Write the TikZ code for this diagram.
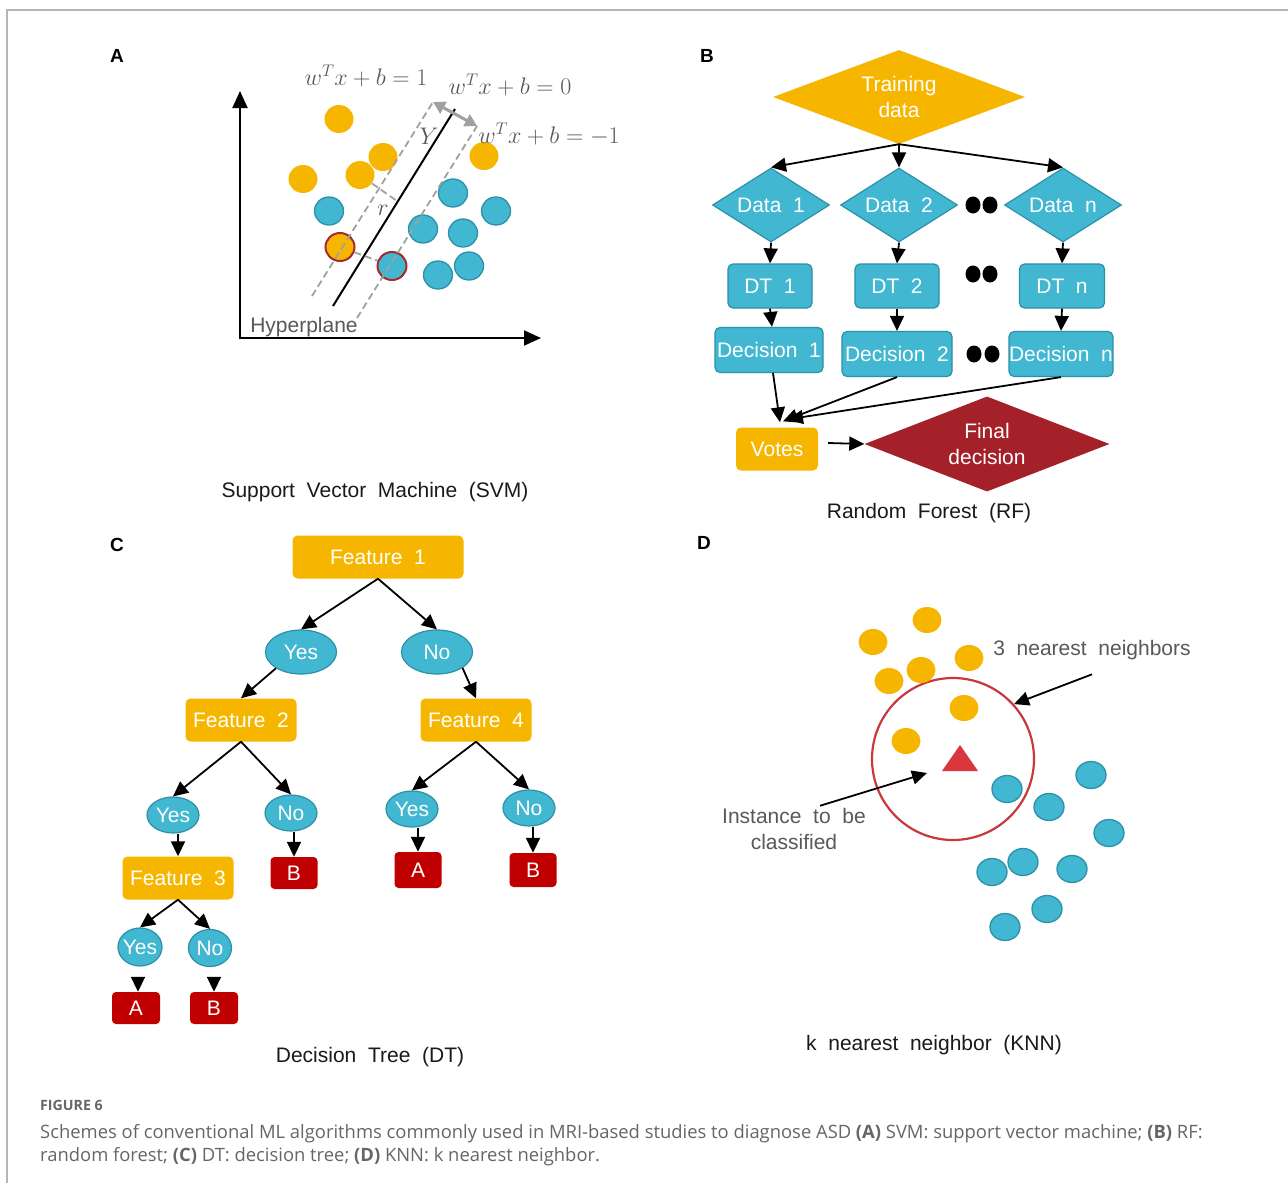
\RequirePackage{fix-cm}
\documentclass[tikz,border=0pt]{standalone}
\usepackage{fontspec}
\setmainfont{Liberation Sans}[WordSpace=2]
\newfontfamily\capfont{Open Sans}
\usetikzlibrary{arrows.meta,shapes.geometric,calc}
\definecolor{cyel}{HTML}{F6B600}
\definecolor{cblue}{HTML}{42B7D1}
\definecolor{cbluedk}{HTML}{2C90A8}
\definecolor{cdred}{HTML}{A5212A}
\definecolor{cred}{HTML}{C00000}
\definecolor{ctri}{HTML}{D9363E}
\definecolor{cring}{HTML}{C8393D}
\definecolor{ctext}{HTML}{595959}
\definecolor{cdash}{HTML}{A0A0A0}
\definecolor{csvred}{HTML}{A52A2A}
\definecolor{cframe}{HTML}{B5B5B5}
\definecolor{ccap}{HTML}{666666}
\definecolor{ctitle}{HTML}{1A1A1A}
\newcommand\dtxt{\fontsize{21}{26}\selectfont}
\newcommand\lbltxt{\fontsize{19}{22}\selectfont\bfseries}
\newcommand\eqtxt{\fontsize{24}{28}\selectfont}
\begin{document}
\begin{tikzpicture}[x=1pt,y=-1pt,
  arr/.style={-{Triangle[length=15pt,width=14pt]}, line width=1.8pt, draw=black},
  axarr/.style={-{Triangle[length=17pt,width=15pt]}, line width=2pt, draw=black},
  gdbl/.style={{Triangle[length=12pt,width=13pt]}-{Triangle[length=12pt,width=13pt]}, line width=3pt, draw=cdash},
  svdash/.style={draw=cdash, line width=1.8pt, dash pattern=on 7pt off 4pt},
  ybox/.style={rectangle, rounded corners=5pt, fill=cyel, text=white, minimum height=43pt, inner sep=0pt, font=\dtxt},
  bbox/.style={rectangle, rounded corners=5pt, fill=cblue, draw=cbluedk, line width=1.2pt, text=white, minimum height=44pt, inner sep=0pt, font=\dtxt},
  rbox/.style={rectangle, rounded corners=4pt, fill=cred, text=white, minimum width=47pt, minimum height=32pt, inner sep=0pt, font=\dtxt},
  bell/.style={ellipse, fill=cblue, draw=cbluedk, line width=1.2pt, inner sep=0pt},
  elbl/.style={font=\dtxt, text=white},
  ydia/.style={diamond, fill=cyel, text=white, inner sep=0pt, align=center, font=\dtxt},
  bdia/.style={diamond, fill=cblue, draw=cbluedk, line width=1.2pt, text=white, inner sep=0pt, align=center, font=\dtxt},
  rdia/.style={diamond, fill=cdred, text=white, inner sep=0pt, align=center, font=\dtxt},
  blk/.style={ellipse, fill=black, minimum width=15pt, minimum height=17pt, inner sep=0pt},
  ydot/.style={ellipse, fill=cyel, minimum width=29pt, minimum height=28pt, inner sep=0pt},
  bdot/.style={ellipse, fill=cblue, draw=cbluedk, line width=1.3pt, minimum width=29pt, minimum height=28pt, inner sep=0pt},
  kydot/.style={ellipse, fill=cyel, minimum width=29pt, minimum height=26pt, inner sep=0pt},
  kbdot/.style={ellipse, fill=cblue, draw=cbluedk, line width=1.3pt, minimum width=30pt, minimum height=27pt, inner sep=0pt},
  title/.style={font=\dtxt, text=ctitle},
  plbl/.style={font=\lbltxt, text=black},
  svtxt/.style={font=\eqtxt, text=ctext}
]
\useasboundingbox (0,0) rectangle (1288,1183);
\fill[white] (0,0) rectangle (1288,1183);
\draw[cframe, line width=1.5pt] (7,1183) -- (7,10) -- (1288,10);

% panel labels
\node[plbl] (lA) at (117,56) {A};
\node[plbl] (lB) at (707,56) {B};
\node[plbl] (lC) at (117,545) {C};
\node[plbl] (lD) at (704,543) {D};

% ================= SVM =================
\coordinate (orig) at (240,338);
\coordinate (ytip) at (240,91);
\coordinate (xtip) at (541,338);
\draw[axarr, line cap=rect] (orig) -- (ytip);
\draw[axarr, line cap=rect] (orig) -- (xtip);

\coordinate (hpA) at (333,306); \coordinate (hpB) at (455,109);
\coordinate (upA) at (312,296); \coordinate (upB) at (433,102);
\coordinate (loA) at (357,318); \coordinate (loB) at (477,126);
\coordinate (rfoot) at (397,201);

\foreach \n/\x/\y in {1/339/119,2/383/157,3/303/179,4/360/175,5/484/156}
  \node[ydot] (sy\n) at (\x,\y) {};
\foreach \n/\x/\y in {1/329/211,2/453/193,3/496/211,4/423/229,5/463/233,6/438/275,7/469/266}
  \node[bdot] (sb\n) at (\x,\y) {};
\node[ydot, draw=csvred, line width=2pt] (sy6) at (340,247) {};
\node[bdot, draw=csvred, line width=2pt] (sb8) at (392,266) {};

\draw[svdash] (upA) -- (upB);
\draw[svdash] (loA) -- (loB);
\draw[line width=2pt] (hpA) -- (hpB);
\draw[svdash] (sy4) -- (rfoot);
\draw[svdash] (sy6) -- (sb8);
\draw[gdbl] (upB) -- (loB);

\node[svtxt] (eq1) at (366,76) {$w^{T}x+b=1$};
\node[svtxt] (eq0) at (510,85) {$w^{T}x+b=0$};
\node[svtxt] (eqm) at (549,134) {$w^{T}x+b=-1$};
\node[svtxt] (gam) at (429,136) {$Y$};
\node[svtxt] (rr) at (383,210) {$r$};
\node[font=\dtxt, text=ctext] (hyp) at (304,327) {Hyperplane};
\node[title] (tA) at (375,492) {Support Vector Machine (SVM)};

% ================= Random Forest =================
\node[ydia, minimum width=252pt, minimum height=94pt, aspect=2.68] (td) at (899,97) {Training\\data};
\node[bdia, minimum width=117pt, minimum height=74pt, aspect=1.58] (d1) at (771,205) {Data 1};
\node[bdia, minimum width=117pt, minimum height=74pt, aspect=1.58] (d2) at (899,205) {Data 2};
\node[bdia, minimum width=117pt, minimum height=74pt, aspect=1.58] (dn) at (1063,205) {Data n};
\node[bbox, minimum width=84pt] (dt1) at (770,286) {DT 1};
\node[bbox, minimum width=84pt] (dt2) at (897,286) {DT 2};
\node[bbox, minimum width=85pt] (dtn) at (1062,286) {DT n};
\node[bbox, minimum width=108pt, minimum height=45pt] (dec1) at (769,350) {Decision 1};
\node[bbox, minimum width=110pt, minimum height=45pt] (dec2) at (897,354) {Decision 2};
\node[bbox, minimum width=103pt, minimum height=45pt] (decn) at (1061,354) {Decision n};
\node[ybox, minimum width=82pt] (votes) at (777,449) {Votes};
\node[rdia, minimum width=245pt, minimum height=95pt, aspect=2.58] (final) at (987,444) {Final\\decision};

\node[blk] (k1) at (973,205) {}; \node[blk] (k2) at (990,205) {};
\node[blk] (k3) at (973,274) {}; \node[blk] (k4) at (990,274) {};
\node[blk] (k5) at (974,354) {}; \node[blk] (k6) at (992,354) {};

\draw[arr] (td.south) -- (d1.north);
\draw[arr] (td.south) -- (d2.north);
\draw[arr] (td.south) -- (dn.north);
\draw[arr] (d1.south) -- (dt1.north);
\draw[arr] (d2.south) -- (dt2.north);
\draw[arr] (dn.south) -- (dtn.north);
\draw[arr] (dt1.south) -- ([xshift=3pt]dec1.north);
\draw[arr] (dt2.south) -- (dec2.north);
\draw[arr] (dtn.south) -- (decn.north);
\draw[arr] ([xshift=4pt]dec1.south) -- ([xshift=3pt,yshift=5pt]votes.north);
\draw[arr] (dec2.south) -- ([xshift=6pt,yshift=6pt]votes.north);
\draw[arr] (decn.south) -- ([xshift=11pt,yshift=8pt]votes.north);
\draw[arr] ([xshift=10pt,yshift=6pt]votes.east) -- (final.west);
\node[title] (tB) at (929,513) {Random Forest (RF)};

% ================= Decision Tree =================
\node[ybox, minimum width=171pt] (f1) at (378,557) {Feature 1};
\node[bell, minimum width=71pt, minimum height=44pt, label={[elbl]center:Yes}] (y1) at (301,652) {};
\node[bell, minimum width=71pt, minimum height=44pt, label={[elbl]center:No}] (n1) at (437,652) {};
\node[ybox, minimum width=111pt] (f2) at (241,720) {Feature 2};
\node[ybox, minimum width=111pt] (f4) at (476,720) {Feature 4};
\node[bell, minimum width=52pt, minimum height=36pt, label={[elbl]center:Yes}] (y2) at (173,815) {};
\node[bell, minimum width=52pt, minimum height=36pt, label={[elbl]center:No}] (n2) at (291,813) {};
\node[bell, minimum width=52pt, minimum height=36pt, label={[elbl]center:Yes}] (y3) at (412,809) {};
\node[bell, minimum width=52pt, minimum height=36pt, label={[elbl]center:No}] (n3) at (529,808) {};
\node[ybox, minimum width=111pt] (f3) at (178,878) {Feature 3};
\node[rbox] (b1) at (294,873) {B};
\node[rbox, minimum height=36pt] (a2) at (418,870) {A};
\node[rbox, minimum height=34pt] (b2) at (533,870) {B};
\node[bell, minimum width=44pt, minimum height=38pt, label={[elbl]center:Yes}] (y4) at (140,947) {};
\node[bell, minimum width=43pt, minimum height=37pt, label={[elbl]center:No}] (n4) at (210,948) {};
\node[rbox, minimum width=48pt] (a3) at (136,1008) {A};
\node[rbox, minimum width=48pt] (b3) at (214,1008) {B};

\draw[arr] (f1.south) -- (y1.north);
\draw[arr] (f1.south) -- (n1.north);
\draw[arr] (y1.213) -- (f2.north);
\draw[arr] (n1.-32) -- (f4.north);
\draw[arr] (f2.south) -- (y2.north);
\draw[arr] (f2.south) -- (n2.north);
\draw[arr] (f4.south) -- (y3.north);
\draw[arr] (f4.south) -- (n3.north);
\draw[arr] (f3.north |- y2.south) -- (f3.north);
\draw[arr] (b1.north |- n2.south) -- (b1.north);
\draw[arr] (a2.north |- y3.south) -- (a2.north);
\draw[arr] (b2.north |- n3.south) -- (b2.north);
\draw[arr] (f3.south) -- (y4.north);
\draw[arr] (f3.south) -- (n4.north);
\draw[arr] ([xshift=2pt,yshift=-10pt]a3.north |- y4.south) -- ([xshift=2pt]a3.north);
\draw[arr] ([yshift=-10pt]b3.north |- n4.south) -- (b3.north);
\node[title] (tC) at (370,1057) {Decision Tree (DT)};

% ================= KNN =================
\node[draw=cring, line width=2.2pt, circle, minimum size=162pt, inner sep=0pt] (ring) at (953,759) {};
\foreach \n/\x/\y in {1/927/620,2/873/642,3/969/658,4/921/670,5/889/681,6/964/708,7/906/741}
  \node[kydot] (ky\n) at (\x,\y) {};
\foreach \n/\x/\y in {1/1007/789,2/1091/775,3/1049/807,4/1109/833,5/992/872,6/1023/862,7/1072/869,8/1047/909,9/1005/927}
  \node[kbdot] (kb\n) at (\x,\y) {};
\fill[ctri] (942,771) -- (960,745) -- (978,771) -- cycle;
\coordinate (itip) at (927,773);
\node[font=\dtxt, text=ctext] (nn) at (1092,650) {3 nearest neighbors};
\node[font=\dtxt, text=ctext, align=center] (inst) at (794,829) {Instance to be\\classified};
\draw[arr] ([yshift=-11pt]nn.south) -- (ring.42);
\draw[arr] ($(inst.north)+(26,1)$) -- (itip);
\node[title] (tD) at (934,1045) {k nearest neighbor (KNN)};

% ================= caption =================
\node[anchor=base west, inner sep=0pt, text=ccap, font=\capfont\fontsize{14.2}{16}\selectfont\bfseries] (fig) at (40,1110) {FIGURE 6};
\node[anchor=base west, inner sep=0pt, text=ccap, font=\capfont\fontsize{18.4}{22}\selectfont] (cap1) at (40,1138) {Schemes of conventional ML algorithms commonly used in MRI-based studies to diagnose ASD \textbf{(A)} SVM: support vector machine; \textbf{(B)} RF:};
\node[anchor=base west, inner sep=0pt, text=ccap, font=\capfont\fontsize{18.4}{22}\selectfont] (cap2) at (40,1161) {random forest; \textbf{(C)} DT: decision tree; \textbf{(D)} KNN: k nearest neighbor.};
\end{tikzpicture}
\end{document}
